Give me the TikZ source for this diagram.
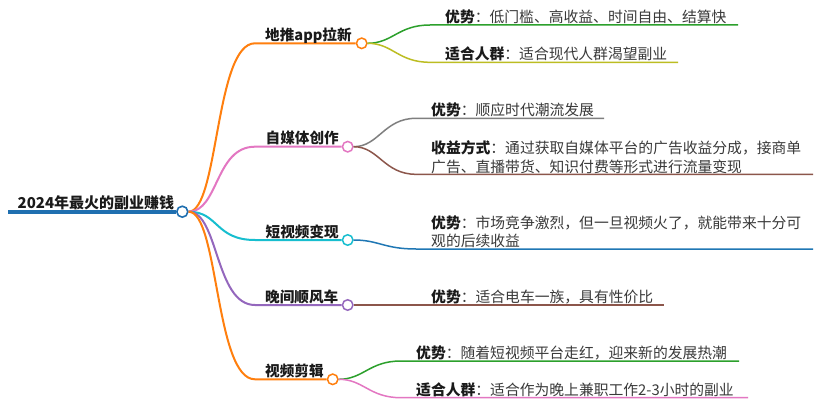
\documentclass[tikz,border=0pt]{standalone}
\usepackage{fontspec}
\setmainfont{Noto Sans CJK SC}
\definecolor{cRoot}{HTML}{1F6FB0}
\definecolor{cOrange}{HTML}{FF7F0E}
\definecolor{cPink}{HTML}{E377C2}
\definecolor{cCyan}{HTML}{17BECF}
\definecolor{cPurple}{HTML}{9467BD}
\definecolor{cGreen}{HTML}{2CA02C}
\definecolor{cOlive}{HTML}{BCBD22}
\definecolor{cGray}{HTML}{7F7F7F}
\definecolor{cBrown}{HTML}{8C564B}
\definecolor{cBlue}{HTML}{1F77B4}
\definecolor{cText}{HTML}{3A3A3A}
\definecolor{cBold}{HTML}{1A1A1A}
\begin{document}
\begin{tikzpicture}[x=1pt,y=-1pt,
  rootline/.style={draw=cRoot,line width=4pt},
  rootdot/.style={circle,draw=cRoot,fill=white,line width=1.6pt,minimum size=11pt,inner sep=0pt},
  dot/.style={circle,fill=white,line width=1.5pt,minimum size=10.5pt,inner sep=0pt},
  branch/.style={line width=2pt},
  leafline/.style={line width=1.5pt},
  roottext/.style={anchor=base west,inner sep=0pt,font=\fontsize{15}{18}\selectfont\bfseries,text=cBold},
  label/.style={anchor=base west,inner sep=0pt,font=\fontsize{14.6}{18}\selectfont\bfseries,text=cBold},
  leaf/.style={anchor=base west,inner sep=0pt,font=\fontsize{14.8}{18}\selectfont,text=cText}
]
\useasboundingbox (0,0) rectangle (820,409);
\fill[white] (0,0) rectangle (820,409);

% root
\coordinate (r0) at (8,211.7);
\node[rootdot] (r) at (182.3,211.7) {};
\draw[rootline] (r0) -- (r.west);
\node[roottext] (rt) at (17.5,209) {2024年最火的副业赚钱};

% branch circles
\node[dot,draw=cOrange] (c1) at (361.7,43.3) {};
\node[dot,draw=cPink] (c2) at (347.7,146.7) {};
\node[dot,draw=cCyan] (c3) at (347.7,240) {};
\node[dot,draw=cPurple] (c4) at (347.7,305) {};
\node[dot,draw=cOrange] (c5) at (332.7,379.3) {};

% bend coordinates
\coordinate (k1) at (255,43.3);
\coordinate (k2) at (255,146.7);
\coordinate (k3) at (255,240);
\coordinate (k4) at (255,305);
\coordinate (k5) at (255,379.3);

% branches
\draw[branch,cOrange] (r.east) .. controls +(30,0) and +(-40,0) .. (k1) -- (c1.west);
\draw[branch,cPink] (r.east) .. controls +(30,0) and +(-40,0) .. (k2) -- (c2.west);
\draw[branch,cCyan] (r.east) .. controls +(30,0) and +(-40,0) .. (k3) -- (c3.west);
\draw[branch,cPurple] (r.east) .. controls +(30,0) and +(-40,0) .. (k4) -- (c4.west);
\draw[branch,cOrange] (r.east) .. controls +(30,0) and +(-40,0) .. (k5) -- (c5.west);

% branch labels
\node[label] (t1) at (265,40.7) {地推app拉新};
\node[label] (t2) at (265.5,144) {自媒体创作};
\node[label] (t3) at (265.5,237.4) {短视频变现};
\node[label] (t4) at (265,302.4) {晚间顺风车};
\node[label] (t5) at (265,376.7) {视频剪辑};

% leaf coordinates
\coordinate (m1a) at (430,25);   \coordinate (e1a) at (738,25);
\coordinate (m1b) at (430,62.3); \coordinate (e1b) at (678,62.3);
\coordinate (m2a) at (416,118.3); \coordinate (e2a) at (604,118.3);
\coordinate (m2b) at (416,174.3); \coordinate (e2b) at (813,174.3);
\coordinate (m3a) at (416,249);  \coordinate (e3a) at (813,249);
\coordinate (e4a) at (664,305);
\coordinate (m5a) at (401,361);  \coordinate (e5a) at (739,361);
\coordinate (m5b) at (401,397.7); \coordinate (e5b) at (748,397.7);

% leaf lines
\draw[leafline,cGreen] (c1.east) .. controls +(25,0) and +(-32,0) .. (m1a) -- (e1a);
\draw[leafline,cOlive] (c1.east) .. controls +(25,0) and +(-32,0) .. (m1b) -- (e1b);
\draw[leafline,cGray] (c2.east) .. controls +(25,0) and +(-32,0) .. (m2a) -- (e2a);
\draw[leafline,cBrown] (c2.east) .. controls +(25,0) and +(-32,0) .. (m2b) -- (e2b);
\draw[leafline,cBlue] (c3.east) .. controls +(25,0) and +(-32,0) .. (m3a) -- (e3a);
\draw[leafline,cBrown] (c4.east) -- (e4a);
\draw[leafline,cGreen] (c5.east) .. controls +(25,0) and +(-32,0) .. (m5a) -- (e5a);
\draw[leafline,cPink] (c5.east) .. controls +(25,0) and +(-32,0) .. (m5b) -- (e5b);

% leaf texts
\node[leaf] (l1a) at (445,22.4) {\textbf{\color{cBold}优势}：低门槛、高收益、时间自由、结算快};
\node[leaf] (l1b) at (445,59.7) {\textbf{\color{cBold}适合人群}：适合现代人群渴望副业};
\node[leaf] (l2a) at (431,115.7) {\textbf{\color{cBold}优势}：顺应时代潮流发展};
\node[leaf] (l2b) at (431,153.4) {\textbf{\color{cBold}收益方式}：通过获取自媒体平台的广告收益分成，接商单};
\node[leaf] (l2c) at (431,172.3) {广告、直播带货、知识付费等形式进行流量变现};
\node[leaf] (l3a) at (431,228.4) {\textbf{\color{cBold}优势}：市场竞争激烈，但一旦视频火了，就能带来十分可};
\node[leaf] (l3b) at (431,246.6) {观的后续收益};
\node[leaf] (l4a) at (431,302.4) {\textbf{\color{cBold}优势}：适合电车一族，具有性价比};
\node[leaf] (l5a) at (416,358.4) {\textbf{\color{cBold}优势}：随着短视频平台走红，迎来新的发展热潮};
\node[leaf] (l5b) at (416,395) {\textbf{\color{cBold}适合人群}：适合作为晚上兼职工作2-3小时的副业};
\end{tikzpicture}
\end{document}
